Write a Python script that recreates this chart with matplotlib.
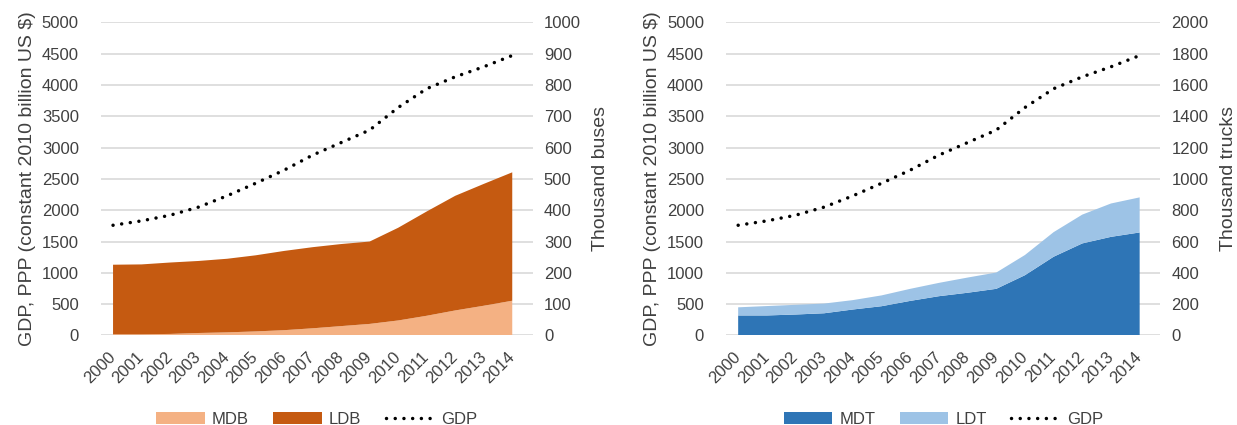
import matplotlib
matplotlib.use("Agg")
import matplotlib.pyplot as plt
import numpy as np

plt.rcParams['font.family'] = ['Liberation Sans', 'DejaVu Sans']

years = np.arange(2000, 2015)

# GDP, PPP (constant 2010 billion US $)
gdp = [1760, 1830, 1920, 2050, 2230, 2430, 2640, 2880, 3080, 3280,
       3640, 3940, 4130, 4290, 4470]

# buses, thousands
mdb = [4, 4, 5, 8, 10, 13, 17, 23, 30, 37, 48, 63, 80, 95, 111]
ldb_total = [226, 227, 233, 238, 245, 256, 270, 282, 292, 300,
             344, 396, 446, 484, 521]
ldb = [t - m for t, m in zip(ldb_total, mdb)]

# trucks, thousands
mdt = [128, 128, 134, 142, 166, 187, 221, 251, 273, 298,
       385, 503, 588, 630, 658]
ldt_total = [180, 188, 196, 204, 226, 256, 298, 336, 370, 402,
             514, 660, 772, 843, 882]
ldt = [t - m for t, m in zip(ldt_total, mdt)]

txt = '#404040'
fs = 12
lfs = 14

fig = plt.figure(figsize=(12.37, 4.25), dpi=100)


def panel(rect, s1, s2, names, colors, rmax, rstep, rlabel):
    ax = fig.add_axes(rect)
    ax.set_xlim(1999.58, 2014.72)
    ax.set_ylim(0, 5000)
    ax.set_yticks(np.arange(0, 5001, 500))
    ax.yaxis.grid(True, color='#d9d9d9', lw=1.2)
    ax.set_axisbelow(True)
    for sp in ax.spines.values():
        sp.set_visible(False)
    ax.tick_params(length=0, labelsize=fs, labelcolor=txt, pad=16)
    ax.tick_params(axis='x', pad=14)
    ax.set_xticks(years)
    ax.set_xticklabels([str(y) for y in years], rotation=45, ha='right',
                       va='center', rotation_mode='anchor')
    ax.set_ylabel('GDP, PPP (constant 2010 billion US $)', fontsize=lfs,
                  color=txt, labelpad=4)

    ax2 = ax.twinx()
    ax2.set_ylim(0, rmax)
    ax2.set_yticks(np.arange(0, rmax + 1, rstep))
    for sp in ax2.spines.values():
        sp.set_visible(False)
    ax2.tick_params(length=0, labelsize=fs, labelcolor=txt, pad=8)
    ax2.set_ylabel(rlabel, fontsize=lfs, color=txt, labelpad=8)

    # areas sit on the secondary axis, above the gridlines
    polys = ax2.stackplot(years, s1, s2, colors=colors, labels=names, lw=0)
    line, = ax.plot(years, gdp, color='black', lw=2.5,
                    linestyle=(0, (0.01, 2.5)), dash_capstyle='round',
                    label='GDP')
    ax.legend(handles=list(polys) + [line], loc='center',
              bbox_to_anchor=(0.5, -0.268), ncol=3, frameon=False,
              fontsize=fs, labelcolor=txt, handlelength=2.9,
              handleheight=0.75, columnspacing=1.45, handletextpad=0.45)


panel([0.0817, 0.2106, 0.349, 0.7369], mdb, ldb, ['MDB', 'LDB'],
      ['#F4B183', '#C55A11'], 1000, 100, 'Thousand buses')
panel([0.587, 0.2106, 0.351, 0.7369], mdt, ldt, ['MDT', 'LDT'],
      ['#2E75B6', '#9DC3E6'], 2000, 200, 'Thousand trucks')

fig.savefig('out.png', dpi=100)
